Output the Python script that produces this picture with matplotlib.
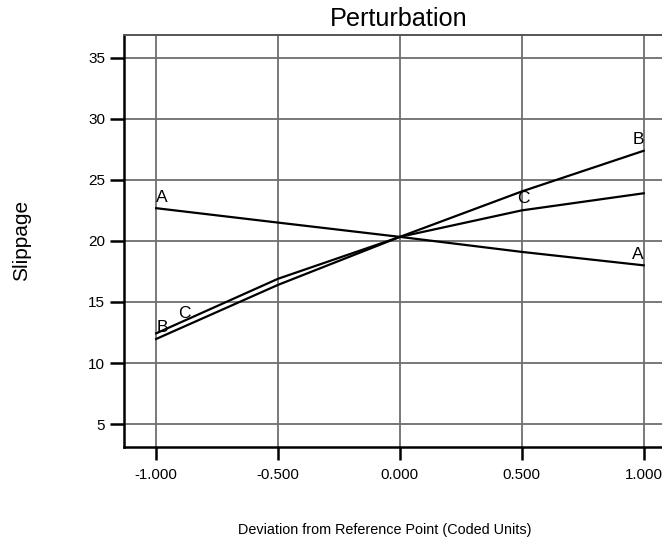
import matplotlib
matplotlib.use('Agg')
import matplotlib.pyplot as plt

# coded deviation points and slippage
deviation = [-1.0, -0.5, 0.0, 0.5, 1.0]
slip_A = [22.68, 21.50, 20.33, 19.10, 18.00]
slip_B = [11.97, 16.40, 20.33, 24.05, 27.38]
slip_C = [12.43, 16.90, 20.33, 22.50, 23.90]

x_ticks = [-1.0, -0.5, 0.0, 0.5, 1.0]
x_tick_labels = ['-1.000', '-0.500', '0.000', '0.500', '1.000']
y_ticks = [5, 10, 15, 20, 25, 30, 35]

plt.rcParams['font.family'] = ['Liberation Sans', 'DejaVu Sans']

fig = plt.figure(figsize=(6.62, 5.41), dpi=100)
ax = fig.add_axes([0.188, 0.1732, 0.8285, 0.763])

ax.set_xlim(-1.13, 1.12)
ax.set_ylim(3.1, 36.9)

# grid
ax.set_xticks(x_ticks)
ax.set_xticklabels(x_tick_labels, fontsize=10.8)
ax.set_yticks(y_ticks)
ax.set_yticklabels([str(t) for t in y_ticks], fontsize=11)
ax.grid(True, color='#6e6e6e', linewidth=1.3)
ax.set_axisbelow(True)

for side in ['left', 'bottom']:
    ax.spines[side].set_linewidth(1.8)
    ax.spines[side].set_color('black')
ax.spines['top'].set_color('#555555')
ax.spines['top'].set_linewidth(1.4)
ax.spines['right'].set_visible(False)
ax.tick_params(axis='y', direction='out', length=10, width=1.8, pad=4)
ax.tick_params(axis='x', direction='out', length=9, width=1.8, pad=6)

ax.plot(deviation, slip_A, color='black', linewidth=1.6)
ax.plot(deviation, slip_B, color='black', linewidth=1.6)
ax.plot(deviation, slip_C, color='black', linewidth=1.6)

# curve labels
lab = dict(fontsize=12.5, color='black')
ax.text(-1.0, slip_A[0] + 0.3, 'A', ha='left', va='bottom', **lab)
ax.text(1.0, slip_A[-1] + 0.25, 'A', ha='right', va='bottom', **lab)
ax.text(1.0, slip_B[-1] + 0.3, 'B', ha='right', va='bottom', **lab)
ax.text(-1.0, slip_B[0] + 0.35, 'B', ha='left', va='bottom', **lab)
ax.text(0.505, 23.45, 'C', ha='center', va='center', **lab)
ax.text(-0.885, 14.05, 'C', ha='center', va='center', **lab)

ax.set_xlabel('Deviation from Reference Point (Coded Units)', fontsize=10.4)
ax.xaxis.set_label_coords(0.475, -0.183)
ax.set_ylabel('Slippage', fontsize=15)
ax.yaxis.set_label_coords(-0.17, 0.5)

fig.text(0.603, 0.964, 'Perturbation', ha='center', va='center', fontsize=18.2,
         bbox=dict(facecolor='white', edgecolor='none', pad=1))

fig.savefig('out.png', dpi=100)
